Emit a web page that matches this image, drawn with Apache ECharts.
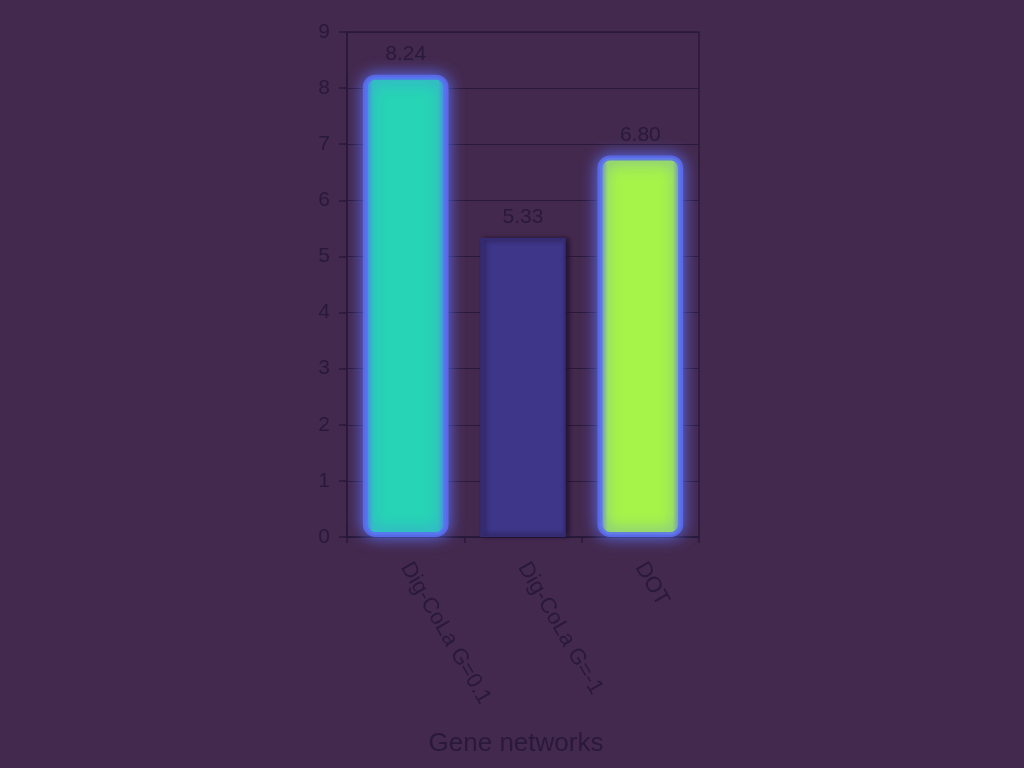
<!DOCTYPE html>
<html>
<head>
<meta charset="utf-8">
<script src="https://cdn.jsdelivr.net/npm/echarts@6/dist/echarts.min.js"></script>
<style>
html,body{margin:0;padding:0;background:#44294e;}
#c{width:1024px;height:768px;}
</style>
</head>
<body>
<div id="c"></div>
<script>
const categories = ['Dig-CoLa G=0.1', 'Dig-CoLa G=-1', 'DOT'];
const values = [8.24, 5.33, 6.80];
const yTicks = [0, 1, 2, 3, 4, 5, 6, 7, 8, 9];

const ink = '#29193a';
const glowStyle = (fill) => ({
  color: {
    type: 'linear', x: 0, y: 0, x2: 1, y2: 0,
    colorStops: [
      { offset: 0, color: '#5b6ff3' },
      { offset: 0.12, color: fill },
      { offset: 0.88, color: fill },
      { offset: 1, color: '#5b6ff3' }
    ]
  },
  borderColor: 'rgba(91,111,243,0.85)',
  borderWidth: 5,
  borderRadius: 10,
  shadowBlur: 16,
  shadowColor: 'rgba(92,112,246,1)'
});
const styles = [
  glowStyle('#27d4b5'),
  { color: '#3d3689', borderColor: '#342b72', borderWidth: 2, shadowBlur: 5, shadowOffsetX: 3, shadowColor: 'rgba(30,15,45,0.9)' },
  glowStyle('#a6f44a')
];

const chart = echarts.init(document.getElementById('c'), null, {renderer: 'canvas'});
chart.setOption({
  backgroundColor: '#44294e',
  animation: false,
  grid: { left: 347, right: 325, top: 32, bottom: 231, outerBoundsMode: 'none', containLabel: false,
    show: true, borderColor: ink, borderWidth: 1.5, backgroundColor: 'transparent' },
  xAxis: {
    type: 'category',
    data: categories,
    name: 'Gene networks',
    nameLocation: 'middle',
    nameGap: 194,
    nameTextStyle: { color: ink, fontSize: 26, fontFamily: 'Liberation Sans', padding: [0, 14, 0, 0] },
    axisLine: { lineStyle: { color: ink, width: 1.5 } },
    axisTick: { show: true, length: 6, lineStyle: { color: ink, width: 1.5 } },
    axisLabel: { color: ink, fontSize: 22, fontFamily: 'Liberation Sans', rotate: -60, margin: 27 }
  },
  yAxis: {
    type: 'value',
    min: 0, max: 9, interval: 1,
    axisLine: { show: true, lineStyle: { color: ink, width: 1.5 } },
    axisTick: { show: true, length: 8, lineStyle: { color: ink, width: 1.5 } },
    axisLabel: { color: ink, fontSize: 21, fontFamily: 'Liberation Sans', margin: 17,
      formatter: v => yTicks.includes(v) ? String(v) : '' },
    splitLine: { show: true, lineStyle: { color: ink, width: 1.2 } }
  },
  series: [{
    type: 'bar',
    barWidth: '73%',
    data: values.map((v, i) => ({ value: v, itemStyle: styles[i] })),
    label: {
      show: true, position: 'top', distance: 10,
      color: ink, fontSize: 21, fontFamily: 'Liberation Sans',
      formatter: p => p.value.toFixed(2)
    }
  }]
});
</script>
</body>
</html>
